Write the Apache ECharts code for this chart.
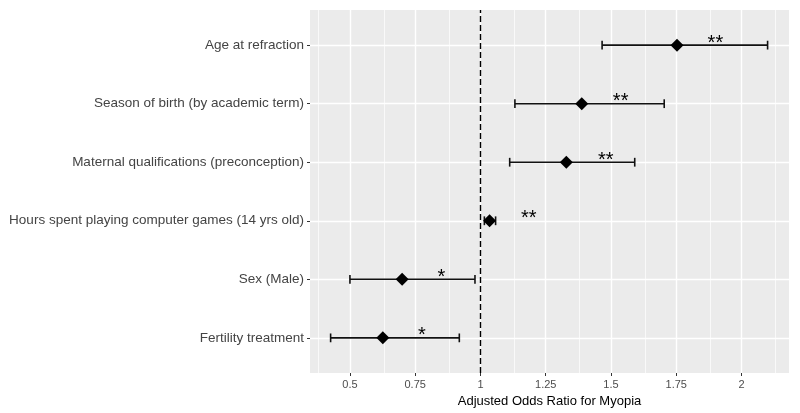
<!DOCTYPE html>
<html>
<head>
<meta charset="utf-8">
<script src="https://cdn.jsdelivr.net/npm/echarts@6/dist/echarts.min.js"></script>
<style>html,body{margin:0;padding:0;background:#fff}#c{width:800px;height:413px}</style>
</head>
<body>
<div id="c"></div>
<script>
// Categories, bottom to top
const categories = ["Fertility treatment", "Sex (Male)", "Hours spent playing computer games (14 yrs old)", "Maternal qualifications (preconception)", "Season of birth (by academic term)", "Age at refraction"];
const oddsRatio = [0.626, 0.70, 1.035, 1.329, 1.388, 1.753];
const ciLow = [0.426, 0.50, 1.015, 1.112, 1.132, 1.466];
const ciHigh = [0.919, 0.979, 1.058, 1.591, 1.704, 2.10];
const starX = [0.776, 0.85, 1.185, 1.48, 1.537, 1.90];
const stars = ["*", "*", "**", "**", "**", "**"];
const xTicks = [0.5, 0.75, 1, 1.25, 1.5, 1.75, 2];
const xMinor = [0.375, 0.625, 0.875, 1.125, 1.375, 1.625, 1.875, 2.125];
const refLine = 1;

const chart = echarts.init(document.getElementById('c'), null, {renderer: 'canvas'});
const yPos = categories.map((c, i) => i + 1);
const font = 'Liberation Sans, Arial, sans-serif';

const option = {
  animation: false,
  grid: {left: 310, right: 11, top: 10, bottom: 40, show: true, backgroundColor: '#ebebeb', borderWidth: 0},
  xAxis: {
    type: 'value', min: 0.347, max: 2.182,
    name: 'Adjusted Odds Ratio for Myopia', nameLocation: 'middle', nameGap: 22,
    nameTextStyle: {color: '#000', fontSize: 13, fontFamily: font},
    axisLine: {show: false},
    axisTick: {show: true, length: 3, lineStyle: {color: '#333'}, customValues: xTicks},
    axisLabel: {color: '#4d4d4d', fontSize: 11, fontFamily: font, margin: 6, customValues: xTicks,
      formatter: v => String(v)},
    splitLine: {show: false}
  },
  yAxis: {
    type: 'value', min: 0.4, max: 6.6,
    axisLine: {show: false},
    axisTick: {show: true, length: 3, lineStyle: {color: '#333'}, customValues: yPos},
    axisLabel: {color: '#444', fontSize: 13.5, fontFamily: font, margin: 6, customValues: yPos,
      formatter: v => categories[Math.round(v) - 1] || ''},
    splitLine: {show: false}
  },
  series: [
    {
      type: 'scatter', data: [], z: 0, silent: true,
      markLine: {
        z: 0, silent: true, symbol: 'none', label: {show: false}, animation: false,
        data: [
          ...xMinor.map(v => ({xAxis: v, lineStyle: {color: '#fff', width: 0.7, type: 'solid'}})),
          ...xTicks.map(v => ({xAxis: v, lineStyle: {color: '#fff', width: 1.4, type: 'solid'}})),
          ...yPos.map(v => ({yAxis: v, lineStyle: {color: '#fff', width: 1.4, type: 'solid'}}))
        ]
      }
    },
    {
      type: 'scatter', data: [], z: 1, silent: true,
      markLine: {
        z: 1, silent: true, symbol: 'none', label: {show: false}, animation: false,
        data: [{xAxis: refLine, lineStyle: {color: '#000', width: 1.4, type: [6, 3]}}]
      }
    },
    {
      type: 'custom', z: 3, silent: true,
      data: categories.map((c, i) => [ciLow[i], ciHigh[i], yPos[i]]),
      renderItem: function (params, api) {
        const a = api.coord([api.value(0), api.value(2)]);
        const b = api.coord([api.value(1), api.value(2)]);
        const t = api.coord([api.value(0), api.value(2) + 0.075]);
        const bt = api.coord([api.value(0), api.value(2) - 0.075]);
        const h = (bt[1] - t[1]) / 2;
        const st = {stroke: '#111', lineWidth: 1.6, fill: null};
        return {type: 'group', children: [
          {type: 'line', shape: {x1: a[0], y1: a[1], x2: b[0], y2: b[1]}, style: st},
          {type: 'line', shape: {x1: a[0], y1: a[1] - h, x2: a[0], y2: a[1] + h}, style: st},
          {type: 'line', shape: {x1: b[0], y1: b[1] - h, x2: b[0], y2: b[1] + h}, style: st}
        ]};
      }
    },
    {
      type: 'scatter', z: 4, symbol: 'diamond', symbolSize: [13, 13], silent: true,
      itemStyle: {color: '#000', borderWidth: 0, opacity: 1},
      data: categories.map((c, i) => [oddsRatio[i], yPos[i]])
    },
    {
      type: 'scatter', z: 5, symbolSize: 0, silent: true, itemStyle: {color: 'rgba(0,0,0,0)', opacity: 1},
      data: categories.map((c, i) => ({value: [starX[i], yPos[i]], name: stars[i]})),
      label: {show: true, position: 'inside', offset: [0, -2], formatter: p => p.name,
        color: '#000', fontSize: 20, fontFamily: font}
    }
  ]
};
chart.setOption(option);
</script>
</body>
</html>
